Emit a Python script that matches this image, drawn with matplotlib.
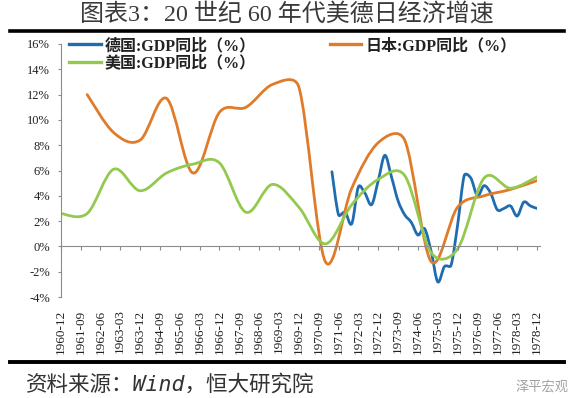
import numpy as np
import pandas as pd
import matplotlib
matplotlib.use('Agg')
import matplotlib.pyplot as plt
from matplotlib.path import Path
from matplotlib.patches import PathPatch
from matplotlib.lines import Line2D

# 季度类目 1960-12 ... 1978-12
quarters = list(pd.period_range('1960Q4', '1978Q4', freq='Q').to_timestamp(how='end').strftime('%Y-%m'))

tick_labels = ['1960-12', '1961-09', '1962-06', '1963-03', '1963-12', '1964-09', '1965-06',
               '1966-03', '1966-12', '1967-09', '1968-06', '1969-03', '1969-12', '1970-09',
               '1971-06', '1972-03', '1972-12', '1973-09', '1974-06', '1975-03', '1975-12',
               '1976-09', '1977-06', '1978-03', '1978-12']

# 德国 (季度)
de_dates = quarters[quarters.index('1971-03'):]
de_gdp = [5.9, 2.5, 2.7, 1.8, 4.7, 4.2, 3.3, 5.2, 7.2, 5.5, 3.6, 2.5, 1.9, 0.9, 1.4, -0.4,
          -2.8, -1.6, -1.5, 1.7, 5.6, 5.4, 4.0, 4.8, 4.2, 2.9, 3.0, 3.2, 2.4, 3.5, 3.2, 3.0]

# 日本 (年度)
jp_dates = ['1961-12', '1962-12', '1963-12', '1964-12', '1965-12', '1966-12', '1967-12', '1968-12',
            '1969-12', '1970-12', '1971-12', '1972-12', '1973-12', '1974-12', '1975-12', '1976-12',
            '1977-12', '1978-12']
jp_gdp = [12.0, 9.0, 8.4, 11.7, 5.8, 10.6, 11.0, 12.8, 12.6, -1.2, 4.6, 8.2, 8.4, -1.2, 3.1, 4.0, 4.5, 5.2]

# 美国 (年度)
us_dates = ['1960-12'] + jp_dates
us_gdp = [2.6, 2.6, 6.1, 4.4, 5.8, 6.5, 6.6, 2.7, 4.9, 3.1, 0.2, 3.3, 5.3, 5.6, -0.5, -0.2, 5.4, 4.6, 5.5]

series = [('德国:GDP同比（%）', de_dates, de_gdp, '#1F6DB0'),
          ('日本:GDP同比（%）', jp_dates, jp_gdp, '#E07B2A'),
          ('美国:GDP同比（%）', us_dates, us_gdp, '#93C94F')]

serif_cjk = ['Liberation Serif', 'Noto Sans CJK SC']


def smooth_path(ax, xs, ys):
    # 类似 Excel 平滑线：像素空间里的 Bezier，控制点长度 d02/6，且不超过相邻段长的一半
    pts = ax.transData.transform(np.column_stack([xs, ys]))
    n = len(pts)
    ctrl_l = [None] * n
    ctrl_r = [None] * n
    for i in range(n):
        prev = pts[i - 1] if i > 0 else pts[i]
        nxt = pts[i + 1] if i < n - 1 else pts[i]
        d = nxt - prev
        d02 = np.hypot(*d)
        u = d / d02 if d02 > 0 else np.zeros(2)
        d01 = np.hypot(*(pts[i] - prev))
        d12 = np.hypot(*(nxt - pts[i]))
        base = d02 / 6
        ctrl_l[i] = pts[i] - u * min(base, d01 / 2)
        ctrl_r[i] = pts[i] + u * min(base, d12 / 2)
    verts = [pts[0]]
    codes = [Path.MOVETO]
    for i in range(n - 1):
        verts += [ctrl_r[i], ctrl_l[i + 1], pts[i + 1]]
        codes += [Path.CURVE4] * 3
    return Path(ax.transData.inverted().transform(np.array(verts)), codes)


fig = plt.figure(figsize=(5.72, 3.98), dpi=100)
ax = fig.add_axes([60.7 / 572, 101 / 398, (537 - 60.7) / 572, 253 / 398])
ax.set_xlim(0, 72)
ax.set_ylim(-4, 16)

handles = {}
for name, dates, vals, color in series:
    xs = [quarters.index(d) for d in dates]
    ax.add_patch(PathPatch(smooth_path(ax, xs, vals), fill=False, edgecolor=color,
                           lw=2.0, capstyle='round', joinstyle='round'))
    handles[name] = Line2D([], [], color=color, lw=2.4)

# 坐标轴
for s in ['top', 'right']:
    ax.spines[s].set_visible(False)
ax.spines['left'].set_color('#8c8c8c')
ax.spines['bottom'].set_position(('data', 0))
ax.spines['bottom'].set_color('#8c8c8c')
ax.spines['bottom'].set_bounds(0, 72.4)

ticks = [quarters.index(t) for t in tick_labels]
ax.set_xticks(ticks)
ax.tick_params(axis='x', direction='out', length=3, color='#8c8c8c', labelbottom=False)
ax.set_yticks(range(-4, 17, 2))
ax.set_yticklabels([f'{v}%' for v in range(-4, 17, 2)])
ax.tick_params(axis='y', direction='out', length=2, color='#8c8c8c', pad=5.5,
               labelsize=9, labelcolor='#222222')
for lab in ax.get_yticklabels():
    lab.set_family('Liberation Serif')

sec = ax.secondary_xaxis(0.0)
sec.set_xticks(ticks)
sec.set_xticklabels(tick_labels, rotation=90, family='Liberation Serif', fontsize=9.5, color='#222222')
sec.tick_params(length=0, pad=9)
sec.spines['bottom'].set_visible(False)

leg = ax.legend([handles['德国:GDP同比（%）'], handles['美国:GDP同比（%）'], handles['日本:GDP同比（%）']],
                ['德国:GDP同比（%）', '美国:GDP同比（%）', '日本:GDP同比（%）'],
                ncol=2, frameon=False, loc='upper left',
                bbox_to_anchor=(69 / 572, 1 - 38 / 398), bbox_transform=fig.transFigure,
                borderpad=0, borderaxespad=0, handlelength=2.0, handletextpad=0.25,
                columnspacing=4.6, labelspacing=0.1,
                prop={'family': serif_cjk, 'weight': 'bold', 'size': 11.5})
for t in leg.get_texts():
    t.set_color('#222222')

# 标题与框线
fig.text(287 / 572, 1 - 14 / 398, '图表3：20 世纪 60 年代美德日经济增速', ha='center', va='center',
         fontsize=17.3, family=serif_cjk, color='#3a3a3a')
fig.add_artist(Line2D([10 / 572, 564 / 572], [1 - 31 / 398] * 2, color='black', lw=2.6))
fig.add_artist(Line2D([10 / 572, 564 / 572], [1 - 362 / 398] * 2, color='black', lw=2.8))

fig.text(26 / 572, 1 - 384 / 398, '资料来源：Wind，恒大研究院', ha='left', va='center',
         fontsize=15.5, style='italic', family=['DejaVu Sans Mono', 'Noto Sans CJK SC'], color='#333333')
fig.text(569 / 572, 1 - 387 / 398, '泽平宏观', ha='right', va='center',
         fontsize=9.5, family=['Noto Sans CJK SC'], color='#a0a0a0')

fig.savefig('out.png', dpi=100)
